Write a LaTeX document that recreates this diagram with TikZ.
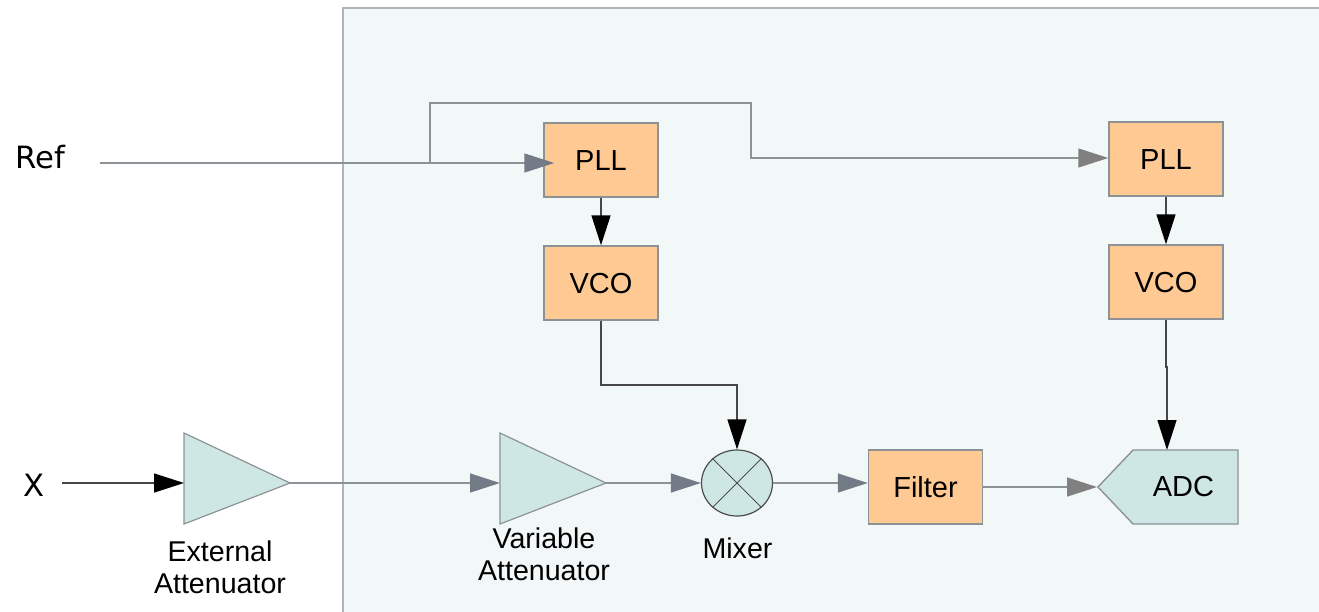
\documentclass[tikz,border=0pt]{standalone}
\usepackage{fontspec}
\setmainfont{Liberation Sans}
\newfontfamily\inputfont{DejaVu Sans}
\usetikzlibrary{arrows.meta,shapes.geometric,shapes.symbols}

\definecolor{panelfill}{HTML}{F2F8F8}
\definecolor{panelline}{HTML}{AEB6BC}
\definecolor{blockfill}{HTML}{FFC993}
\definecolor{ampfill}{HTML}{CFE7E4}
\definecolor{wiregray}{HTML}{8C9296}
\definecolor{tipgray}{HTML}{737B87}

\tikzset{
    block/.style={draw=wiregray,fill=blockfill,line width=1.4pt,minimum width=114pt,minimum height=74pt,inner sep=0pt,text height=21.5pt,text depth=0pt,font=\fontsize{29}{34}\selectfont},
    amp/.style={draw=wiregray,fill=ampfill,line width=1.2pt},
    caption/.style={align=center,inner sep=0pt,font=\fontsize{28.6}{31.5}\selectfont},
    inputlabel/.style={inner sep=0pt,font=\fontsize{30.7}{34}\selectfont\inputfont},
    wire/.style={draw=wiregray,line width=1.4pt},
    graytip/.style={wire,-{Triangle[length=30pt,width=19pt,color=tipgray]}},
    plaintip/.style={wire,-{Triangle[length=30pt,width=19pt,color=gray]}},
    blacktip/.style={draw=black!72,line width=1.4pt,-{Triangle[length=30pt,width=19pt,color=black]}}
}

\begin{document}
\begin{tikzpicture}[x=1pt,y=-1pt]
    \useasboundingbox (0,0) rectangle (1319,611);

    % Panel behind the receiver chain
    \draw[panelline,fill=panelfill,line width=2pt] (342.5,7.5) rectangle (1340,640);

    % Input labels
    \node[inputlabel] (ref) at (40.5,157) {Ref};
    \node[inputlabel] (xin) at (34,485) {X};
    \coordinate (refstart) at (100,163);
    \coordinate (xstart) at (62,483);

    % PLL and VCO blocks
    \node[block] (pllone) at (601,160) {PLL};
    \node[block] (vcoone) at (601,283) {VCO};
    \node[block] (plltwo) at (1166,159) {PLL};
    \node[block] (vcotwo) at (1166,282) {VCO};

    % Attenuators, apex sits a little below the middle of the base
    \draw[amp] (184,433) -- (290,483) -- (184,524) -- cycle;
    \coordinate (extin) at (184,483);
    \coordinate (extout) at (290,483);
    \draw[amp] (500,433) -- (606,483) -- (500,524) -- cycle;
    \coordinate (varin) at (500,483);
    \coordinate (varout) at (606,483);

    % Lower chain
    \node[ellipse,draw=black!70,fill=ampfill,line width=1.2pt,minimum width=71pt,minimum height=66pt,inner sep=0pt] (mixer) at (737,483) {};
    \node[block] (filter) at (925.5,487) {Filter};
    \node[signal,signal to=west,signal pointer angle=93,draw=wiregray,fill=ampfill,line width=1.4pt,minimum width=140pt,minimum height=74pt,inner sep=0pt,anchor=west] (adc) at (1097,487) {};
    \node[font=\fontsize{29}{34}\selectfont,inner sep=0pt] (adctext) at (1183.5,487) {ADC};

    % Cross inside the mixer
    \draw[black!70,line width=1pt] (mixer.45) -- (mixer.225) (mixer.135) -- (mixer.315);

    % Captions
    \node[caption] (extlabel) at (220,567.5) {External\\Attenuator};
    \node[caption] (varlabel) at (544,554.5) {Variable\\Attenuator};
    \node[caption] (mixlabel) at (737.5,548) {Mixer};

    % Reference path
    \coordinate (branch) at (430,163);
    \draw[graytip,shorten >=-11pt] (refstart) -- (pllone.west |- refstart);
    \draw[plaintip] (branch) -- (430,103) -- (751,103) -- (751,158) -- (plltwo.west |- 751,158);

    % Local oscillator paths
    \draw[blacktip] (pllone) -- (vcoone);
    \draw[blacktip] (plltwo) -- (vcotwo);
    \draw[blacktip] (vcoone.south) |- (737,385) -- (mixer.north);
    \draw[blacktip] (vcotwo.south) -- (1166,367) -- (1167,367) -- (1167,450);

    % Signal path
    \draw[blacktip] (xstart) -- (extin);
    \draw[graytip] (extout) -- (varin);
    \draw[graytip] (varout) -- (mixer.west);
    \draw[graytip] (mixer.east) -- (filter.west |- mixer.east);
    \draw[plaintip] (filter.east) -- (adc.west);
\end{tikzpicture}
\end{document}
